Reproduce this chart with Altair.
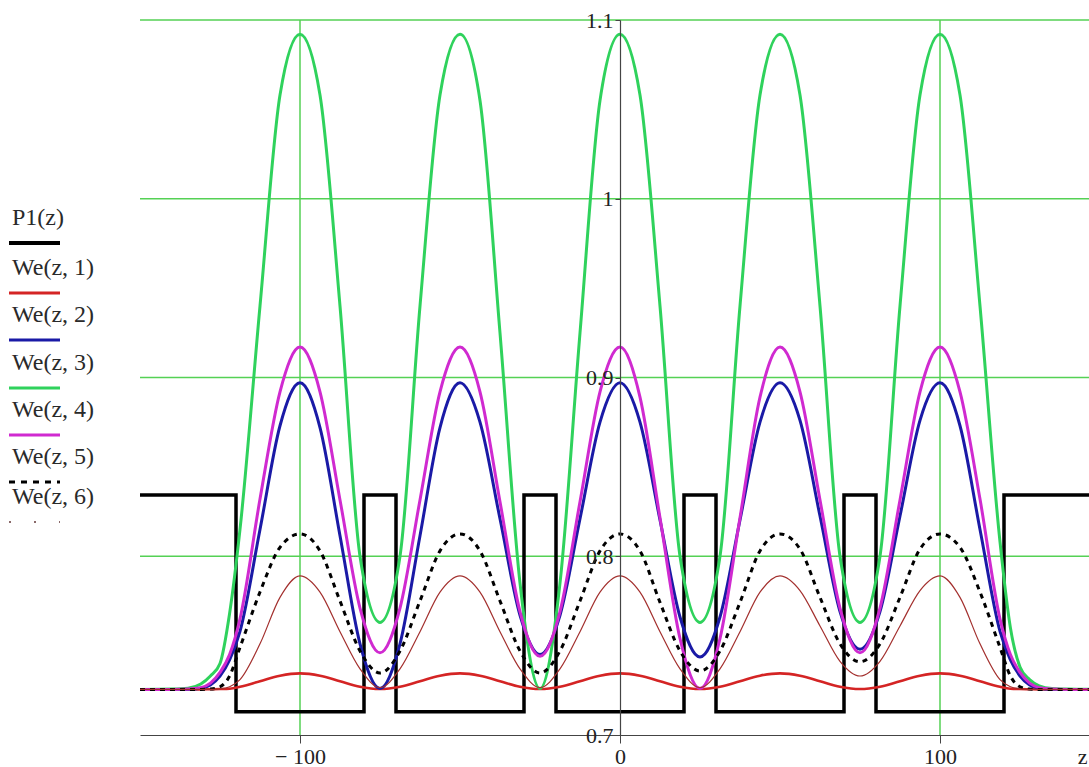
import altair as alt
import pandas as pd

# z positions of the knots used for every We(z, k) trace
Z = [-150, -140, -135, -131, -128, -125, -122, -118.75, -112.5, -106.25,
     -100, -93.75, -87.5, -81.25, -75, -68.75, -62.5, -56.25, -50,
     -43.75, -37.5, -31.25, -25, -18.75, -12.5, -6.25, 0,
     6.25, 12.5, 18.75, 25, 31.25, 37.5, 43.75, 50,
     56.25, 62.5, 68.75, 75, 81.25, 87.5, 93.75, 100,
     106.25, 112.5, 118.75, 122, 125, 128, 131, 135, 140, 150]

WE1 = [0.7255, 0.7255, 0.7255, 0.7255, 0.7256, 0.7257, 0.7259, 0.727, 0.7301, 0.7332,
       0.7345, 0.7332, 0.7301, 0.727, 0.7257, 0.727, 0.7301, 0.7332, 0.7345,
       0.7332, 0.7301, 0.727, 0.7257, 0.727, 0.7301, 0.7332, 0.7345,
       0.7332, 0.7301, 0.727, 0.7257, 0.727, 0.7301, 0.7332, 0.7345,
       0.7332, 0.7301, 0.727, 0.7257, 0.727, 0.7301, 0.7332, 0.7345,
       0.7332, 0.7301, 0.727, 0.7259, 0.7257, 0.7256, 0.7255, 0.7255, 0.7255, 0.7255]

WE2 = [0.7255, 0.7255, 0.7256, 0.7262, 0.728, 0.733, 0.742, 0.758, 0.815, 0.873,
       0.897, 0.872, 0.8115, 0.751, 0.726, 0.751, 0.8115, 0.872, 0.897,
       0.875, 0.821, 0.767, 0.745, 0.767, 0.821, 0.875, 0.897,
       0.875, 0.8203, 0.766, 0.7436, 0.766, 0.8203, 0.875, 0.897,
       0.876, 0.8225, 0.769, 0.748, 0.769, 0.8225, 0.876, 0.897,
       0.873, 0.815, 0.758, 0.742, 0.733, 0.728, 0.7262, 0.7256, 0.7255, 0.7255]

WE3 = [0.7255, 0.7257, 0.7262, 0.7285, 0.733, 0.740, 0.768, 0.815, 0.94, 1.058,
       1.092, 1.058, 0.94, 0.80, 0.763, 0.80, 0.94, 1.058, 1.092,
       1.055, 0.925, 0.785, 0.726, 0.785, 0.925, 1.055, 1.092,
       1.058, 0.94, 0.80, 0.763, 0.80, 0.94, 1.058, 1.092,
       1.058, 0.94, 0.80, 0.763, 0.80, 0.94, 1.058, 1.092,
       1.058, 0.94, 0.808, 0.76, 0.738, 0.731, 0.7275, 0.726, 0.7257, 0.7255]

WE4 = [0.7255, 0.7255, 0.7257, 0.7265, 0.729, 0.735, 0.745, 0.765, 0.832, 0.892,
       0.917, 0.892, 0.8315, 0.771, 0.746, 0.771, 0.8315, 0.892, 0.917,
       0.892, 0.8305, 0.769, 0.744, 0.769, 0.8305, 0.892, 0.917,
       0.889, 0.8215, 0.754, 0.726, 0.754, 0.8215, 0.889, 0.917,
       0.892, 0.8315, 0.771, 0.746, 0.771, 0.8315, 0.892, 0.917,
       0.892, 0.832, 0.765, 0.745, 0.735, 0.729, 0.7265, 0.7257, 0.7255, 0.7255]

WE5 = [0.7255, 0.7255, 0.7255, 0.7255, 0.7257, 0.727, 0.733, 0.749, 0.78, 0.805,
       0.8125, 0.803, 0.775, 0.747, 0.7347, 0.747, 0.775, 0.803, 0.8125,
       0.803, 0.775, 0.747, 0.7347, 0.747, 0.775, 0.803, 0.8125,
       0.803, 0.7742, 0.747, 0.7358, 0.747, 0.7742, 0.803, 0.8125,
       0.804, 0.777, 0.751, 0.741, 0.751, 0.777, 0.804, 0.8125,
       0.805, 0.78, 0.749, 0.733, 0.727, 0.7257, 0.7255, 0.7255, 0.7255, 0.7255]

WE6 = [0.7255, 0.7255, 0.7255, 0.7255, 0.7255, 0.7258, 0.727, 0.731, 0.751, 0.777,
       0.789, 0.7799, 0.7578, 0.737, 0.7265, 0.737, 0.7578, 0.7799, 0.789,
       0.7799, 0.7578, 0.737, 0.7265, 0.737, 0.7578, 0.7799, 0.789,
       0.7799, 0.7578, 0.737, 0.7265, 0.737, 0.7578, 0.7799, 0.789,
       0.7808, 0.761, 0.7412, 0.733, 0.7412, 0.761, 0.7808, 0.789,
       0.777, 0.751, 0.731, 0.727, 0.7258, 0.7255, 0.7255, 0.7255, 0.7255, 0.7255]

# step profile P1(z): value holds from each z until the next one
P1_Z = [-150, -120, -80, -70, -30, -20, 20, 30, 70, 80, 120, 150]
P1_V = [0.8343, 0.713, 0.8343, 0.713, 0.8343, 0.713, 0.8343, 0.713, 0.8343, 0.713, 0.8343, 0.8343]

H_GRID = [0.8, 0.9, 1.0, 1.1]
V_GRID = [-100, 100]
Y_TICKS = [0.7, 0.8, 0.9, 1.0, 1.1]
X_TICKS = [-100, 0, 100]

LABELS = ["P1(z)", "We(z, 1)", "We(z, 2)", "We(z, 3)", "We(z, 4)", "We(z, 5)", "We(z, 6)"]

SERIF = "Liberation Serif"
GRID_GREEN = "#55d155"
AXIS_GREY = "#444444"

# plot area: 949 x 715 px, placed at (140, 20) inside a 1089 x 767 canvas
W, H = 949, 715
LEFT, TOP = 140, 20
PX_PER_Z = 3.2
x_scale = alt.Scale(domain=[-150, -150 + W / PX_PER_Z], nice=False, zero=False)
y_scale = alt.Scale(domain=[0.7, 1.1], nice=False, zero=False)

x_axis = alt.Axis(
    values=X_TICKS, grid=False, domainColor=AXIS_GREY, domainWidth=1.2,
    tickColor=AXIS_GREY, tickSize=8, labelPadding=3,
    labelFont=SERIF, labelFontSize=22, labelColor="#222222",
    labelExpr="datum.value < 0 ? '\u2212 ' + format(-datum.value, 'd') : format(datum.value, 'd')",
    title="z", titleFont=SERIF, titleFontSize=22, titleFontWeight="normal",
    titleColor="#222222", titleX=W - 2, titleY=21, titleAlign="right", titleBaseline="middle",
)
# y axis crosses at z = 0, drawn over the traces
y_axis = alt.Axis(
    values=Y_TICKS, grid=False, offset=-int(150 * PX_PER_Z), zindex=1,
    domainColor=AXIS_GREY, domainWidth=1.2, tickColor=AXIS_GREY, tickSize=5,
    labelPadding=2, labelFont=SERIF, labelFontSize=22, labelColor="#222222",
    format=".1~f", title=None,
)

X = alt.X("z:Q", scale=x_scale, axis=x_axis)
Y = alt.Y("v:Q", scale=y_scale, axis=y_axis)

grid_h = alt.Chart(pd.DataFrame({"v": H_GRID})).mark_rule(
    color=GRID_GREEN, strokeWidth=1.5
).encode(y=Y)

grid_v = alt.Chart(pd.DataFrame({"z": V_GRID})).mark_rule(
    color=GRID_GREEN, strokeWidth=1.5
).encode(x=X)

p1 = alt.Chart(pd.DataFrame({"z": P1_Z, "v": P1_V})).mark_line(
    color="black", strokeWidth=3.5, interpolate="step-after", clip=True
).encode(x=X, y=Y)

# (values, colour, width, dash in plot, dash in key)
TRACES = [
    (WE1, "#d42424", 2.6, None, None),
    (WE2, "#1a1aa6", 3.0, None, None),
    (WE3, "#2fd25c", 3.0, None, None),
    (WE4, "#d02ad0", 3.0, None, None),
    (WE5, "black", 3.0, [5, 5], [6, 6]),
    (WE6, "#a3302e", 1.2, None, [2, 23]),
]


def trace_layer(vals, color, width, dash):
    kw = dict(color=color, strokeWidth=width, interpolate="monotone", clip=True)
    if dash:
        kw["strokeDash"] = dash
    return alt.Chart(pd.DataFrame({"z": Z, "v": vals})).mark_line(**kw).encode(x=X, y=Y)


curves = [trace_layer(v, c, w, d) for v, c, w, d, _ in TRACES]

# key on the left: label above a short sample of each trace
KEY_LINE_Y = [243, 293, 340, 388, 435, 482, 522]
key_styles = [("black", 4.0, None)] + [
    (c, 3.0 if w > 2 else 1.6, kd) for _, c, w, _, kd in TRACES
]
key_styles[6] = ("#8a6a6a", 2.0, [2, 23])

key_layers = []
one = pd.DataFrame({"k": [0]})
for i, label in enumerate(LABELS):
    ly = KEY_LINE_Y[i] - TOP
    color, width, kdash = key_styles[i]
    key_layers.append(
        alt.Chart(pd.DataFrame({"t": [label]})).mark_text(
            align="left", baseline="middle", font=SERIF, fontSize=24, color="#2a2a2a"
        ).encode(text="t:N", x=alt.value(12 - LEFT), y=alt.value(ly - 25))
    )
    rkw = dict(color=color, strokeWidth=width)
    if kdash:
        rkw["strokeDash"] = kdash
    key_layers.append(
        alt.Chart(one).mark_rule(**rkw).encode(
            x=alt.value(9 - LEFT), x2=alt.value(60 - LEFT), y=alt.value(ly)
        )
    )

chart = alt.layer(grid_h, grid_v, p1, *curves, *key_layers).properties(
    width=W,
    height=H,
    autosize=alt.AutoSizeParams(type="none"),
    padding={"left": LEFT, "top": TOP, "right": 0, "bottom": 767 - TOP - H},
    background="white",
).configure_view(strokeWidth=0)

chart.save("out.html", embed_options={"renderer": "svg", "actions": False})
